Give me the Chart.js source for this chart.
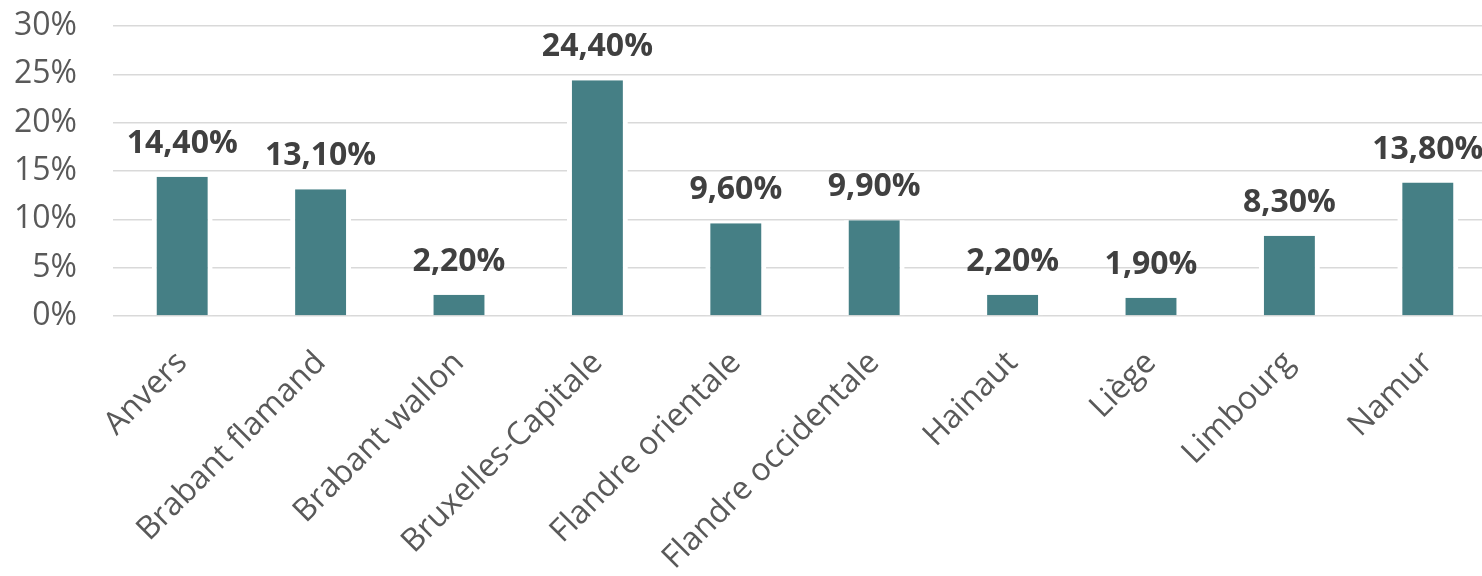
<!DOCTYPE html>
<html>
<head>
<meta charset="utf-8">
<script src="https://cdn.jsdelivr.net/npm/chart.js@4/dist/chart.umd.min.js"></script>
<style>
  html, body { margin: 0; padding: 0; background: #ffffff; overflow: hidden; }
  #wrap { width: 1482px; height: 576px; overflow: hidden; position: relative; }
  #box { position: absolute; left: 0; top: 0; width: 1497px; height: 576px; }
</style>
</head>
<body>
<div id="wrap"><div id="box"><canvas id="c"></canvas></div></div>
<script>
// Share per province (%)
const provinces = [
  "Anvers", "Brabant flamand", "Brabant wallon", "Bruxelles-Capitale",
  "Flandre orientale", "Flandre occidentale", "Hainaut", "Liège",
  "Limbourg", "Namur"
];
const shares = [14.4, 13.1, 2.2, 24.4, 9.6, 9.9, 2.2, 1.9, 8.3, 13.8];
const yMin = 0;
const yMax = 30;
const yStep = 5;

const FONT = "'Open Sans', 'DejaVu Sans', sans-serif";

function formatShare(v) {
  return v.toFixed(2).replace(".", ",") + "%";
}

// Bold value labels above each bar
const valueLabels = {
  id: "valueLabels",
  afterDatasetsDraw(chart) {
    const ctx = chart.ctx;
    const meta = chart.getDatasetMeta(0);
    ctx.save();
    ctx.font = "bold 32px " + FONT;
    ctx.fillStyle = "#404040";
    ctx.textAlign = "center";
    ctx.textBaseline = "alphabetic";
    meta.data.forEach((bar, i) => {
      ctx.fillText(formatShare(chart.data.datasets[0].data[i]), bar.x, bar.y - 24);
    });
    ctx.restore();
  }
};

new Chart(document.getElementById("c"), {
  type: "bar",
  data: {
    labels: provinces,
    datasets: [{
      data: shares,
      backgroundColor: "#457f85",
      borderColor: "#ffffff",
      borderWidth: { left: 5, right: 5, top: 0, bottom: 0 },
      barPercentage: 0.44,
      categoryPercentage: 1.0
    }]
  },
  options: {
    responsive: true,
    maintainAspectRatio: false,
    animation: false,
    layout: { padding: { top: 26, right: 0, bottom: 0, left: 0 } },
    plugins: {
      legend: { display: false },
      tooltip: { enabled: false }
    },
    scales: {
      x: {
        grid: { display: false },
        border: { display: false },
        ticks: {
          color: "#595959",
          font: { family: FONT, size: 32 },
          minRotation: 45,
          maxRotation: 45,
          padding: 20,
          autoSkip: false
        },
        afterFit(scale) { scale.height = 260; }
      },
      y: {
        min: yMin,
        max: yMax,
        grid: { color: "#d9d9d9", lineWidth: 1.5, drawTicks: false },
        border: { display: false },
        ticks: {
          stepSize: yStep,
          color: "#595959",
          font: { family: FONT, size: 32 },
          padding: 36,
          callback: (v) => v + "%"
        },
        afterFit(scale) {
          scale.width = 113;
          scale.paddingTop = 0;
          scale.paddingBottom = 0;
        }
      }
    }
  },
  plugins: [valueLabels]
});
</script>
</body>
</html>
